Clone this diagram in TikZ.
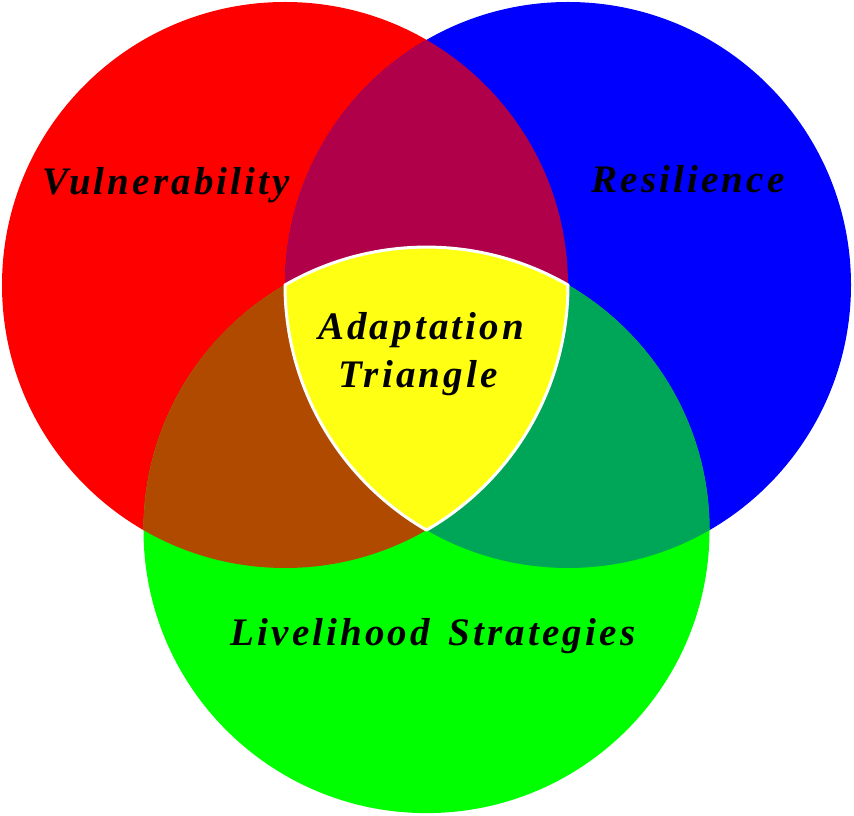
\documentclass[tikz,border=0pt]{standalone}
\usepackage{fontspec}
\newfontfamily\lblfont[LetterSpace=8]{Liberation Serif}
\definecolor{cred}{HTML}{FF0000}
\definecolor{cblue}{HTML}{0000FF}
\definecolor{cgreen}{HTML}{00FF00}
\definecolor{crb}{HTML}{B0004A}
\definecolor{crg}{HTML}{B04A00}
\definecolor{cbg}{HTML}{00A658}
\definecolor{cyel}{HTML}{FFFF14}
\tikzset{
  lbl/.style={font=\lblfont\bfseries\itshape\fontsize{39}{46}\selectfont, text=black, inner sep=0pt, anchor=base},
}
\begin{document}
\begin{tikzpicture}[x=1pt,y=1pt]
\useasboundingbox (0,0) rectangle (854,815);
\coordinate (A) at (285,530);
\coordinate (B) at (568,530);
\coordinate (C) at (426.5,284.9);
\def\RR{283pt}
% base circles
\fill[cred] (A) circle[radius=\RR];
\fill[cblue] (B) circle[radius=\RR];
\fill[cgreen] (C) circle[radius=\RR];
% pairwise overlaps
\begin{scope}
  \clip (A) circle[radius=\RR];
  \fill[crb] (B) circle[radius=\RR];
\end{scope}
\begin{scope}
  \clip (A) circle[radius=\RR];
  \fill[crg] (C) circle[radius=\RR];
\end{scope}
\begin{scope}
  \clip (B) circle[radius=\RR];
  \fill[cbg] (C) circle[radius=\RR];
\end{scope}
% centre Reuleaux triangle
\fill[cyel, draw=white, line width=3pt, line join=round]
  (A) arc[start angle=120, end angle=60, radius=\RR]
      arc[start angle=0, end angle=-60, radius=\RR]
      arc[start angle=240, end angle=180, radius=\RR] -- cycle;
% labels
\node[lbl] (vul) at (166,620) {Vulnerability};
\node[lbl] (res) at (688,622) {Resilience};
\node[lbl] (ada) at (421,475) {Adaptation};
\node[lbl] (tri) at (418,427) {Triangle};
\node[lbl] (liv) at (433,170) {Livelihood\hspace{6pt} Strategies};
\end{tikzpicture}
\end{document}
